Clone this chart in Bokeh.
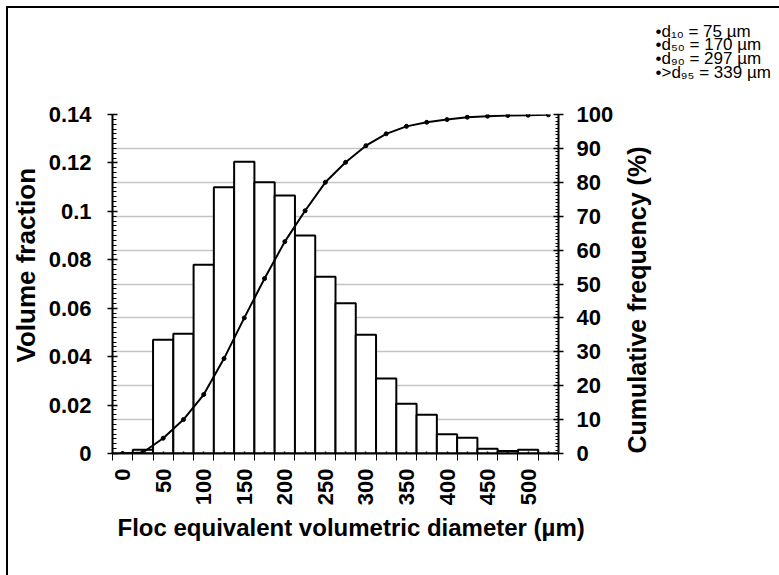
import math
from bokeh.plotting import figure
from bokeh.models import (Range1d, LinearAxis, FixedTicker, Legend, LegendItem,
                          Title, ColumnDataSource)
from bokeh.embed import file_html
from bokeh.resources import INLINE

# ---------------- data ----------------
diameters = [0, 25, 50, 75, 100, 125, 150, 175, 200, 225, 250, 275,
             300, 325, 350, 375, 400, 425, 450, 475, 500, 525]
volume_fraction = [0.0, 0.0015, 0.047, 0.0495, 0.078, 0.110, 0.1205, 0.112,
                   0.1065, 0.090, 0.073, 0.062, 0.049, 0.031, 0.0205, 0.016,
                   0.008, 0.0065, 0.002, 0.001, 0.0015, 0.0]
cumulative_freq = [0.0, 0.3, 4.5, 10.0, 17.4, 28.0, 40.0, 51.6, 62.5, 71.6,
                   80.0, 85.9, 90.8, 94.3, 96.5, 97.7, 98.5, 99.2, 99.5, 99.7,
                   99.8, 99.9]
x_tick_labels = ["0", "50", "100", "150", "200", "250", "300", "350",
                 "400", "450", "500"]
left_ticks = [0, 0.02, 0.04, 0.06, 0.08, 0.1, 0.12, 0.14]
left_tick_labels = ["0", "0.02", "0.04", "0.06", "0.08", "0.1", "0.12", "0.14"]
right_ticks = [0, 10, 20, 30, 40, 50, 60, 70, 80, 90, 100]
stats_text = ["•d\u2081\u2080 = 75 µm", "•d\u2085\u2080 = 170 µm",
              "•d\u2089\u2080 = 297 µm", "•>d\u2089\u2085 = 339 µm"]

FONT = "Liberation Sans"
n = len(diameters)
idx = list(range(n))
src = ColumnDataSource(dict(x=idx, vol=volume_fraction, cum=cumulative_freq))

p = figure(frame_width=446, frame_height=339, output_backend="svg",
           toolbar_location=None, title=None,
           x_range=Range1d(-0.5, n - 0.5), y_range=Range1d(0, 0.14),
           min_border_left=112, min_border_right=221,
           min_border_top=114, min_border_bottom=114)
p.outline_line_color = None
p.background_fill_color = "white"
p.border_fill_color = None
# outer chart frame (top and left edges) drawn as page background
p.styles = {"position": "fixed", "top": "0px", "left": "0px",
            "background": "linear-gradient(#000,#000) 6px 6px / 2px 100% no-repeat, "
                          "linear-gradient(#000,#000) 6px 6px / 100% 2px no-repeat, #fff"}
p.extra_y_ranges = {"cum": Range1d(0, 100)}

# ---- x axis ----
xax = p.xaxis[0]
xax.ticker = FixedTicker(ticks=idx, minor_ticks=[i - 0.5 for i in range(n + 1)])
overrides = {}
for i in idx:
    overrides[i] = x_tick_labels[i // 2] if (i % 2 == 0 and i // 2 < len(x_tick_labels)) else ""
xax.major_label_overrides = overrides
xax.major_label_orientation = math.pi / 2
xax.major_tick_in = 2
xax.major_tick_out = 0
xax.minor_tick_in = 0
xax.minor_tick_out = 7
xax.major_label_standoff = 8

# ---- left axis ----
yax = p.yaxis[0]
yax.ticker = FixedTicker(ticks=left_ticks, minor_ticks=[k * 0.002 for k in range(71)])
yax.major_label_overrides = {t: l for t, l in zip(left_ticks, left_tick_labels)}
yax.major_tick_in = 5
yax.major_tick_out = 5
yax.minor_tick_in = 4
yax.minor_tick_out = 0
yax.major_label_standoff = 16

# ---- right axis ----
rax = LinearAxis(y_range_name="cum",
                 ticker=FixedTicker(ticks=right_ticks, minor_ticks=list(range(101))))
rax.major_tick_in = 5
rax.major_tick_out = 5
rax.minor_tick_in = 3
rax.minor_tick_out = 0
rax.major_label_standoff = 13
rax.axis_label = "Cumulative frequency (%)"
rax.axis_label_standoff = 21
props = rax.properties()
if "axis_label_orientation" in props and "axis_label_align" in props:
    rax.axis_label_orientation = math.pi / 2
    rax.axis_label_align = "start"
p.add_layout(rax, "right")

for ax in (xax, yax, rax):
    ax.axis_line_color = "black"
    ax.axis_line_width = 2
    ax.major_tick_line_color = "black"
    ax.major_tick_line_width = 1.5
    ax.minor_tick_line_color = "black"
    ax.minor_tick_line_width = 1
    ax.major_label_text_font = FONT
    ax.major_label_text_font_style = "bold"
    ax.major_label_text_font_size = "22px"
    ax.major_label_text_color = "black"
    ax.axis_label_text_font = FONT
    ax.axis_label_text_font_style = "bold"
    ax.axis_label_text_color = "black"
rax.axis_label_text_font_size = "25px"

# axis titles as side-panel titles (offset along the axis)
p.add_layout(Title(text="Volume fraction", align="left", offset=91, standoff=9,
                   text_font=FONT, text_font_style="bold", text_font_size="26px",
                   text_color="black"), "left")
p.add_layout(Title(text="Floc equivalent volumetric diameter (µm)", align="left",
                   offset=5, standoff=6, text_font=FONT, text_font_style="bold",
                   text_font_size="24px", text_color="black"), "below")

# ---- grid ----
p.xgrid.visible = False
g = p.ygrid[0]
g.y_range_name = "cum"
g.ticker = rax.ticker
g.grid_line_color = "#c4c4c4"
g.grid_line_width = 1.6

# ---- glyphs ----
bars = p.vbar(x="x", top="vol", width=1, bottom=0, source=src,
              fill_color="white", line_color="black", line_width=2)
line = p.line(x="x", y="cum", source=src, y_range_name="cum",
              line_color="black", line_width=2)
pts = p.scatter(x="x", y="cum", source=src, y_range_name="cum",
                size=4, fill_color="black", line_color="black")

legend = Legend(items=[LegendItem(label="Volume fraction", renderers=[bars]),
                       LegendItem(label="Cumulative frequency (%)", renderers=[line, pts])],
                orientation="horizontal", location="top_center",
                label_text_font=FONT, label_text_font_style="bold",
                label_text_font_size="18px", glyph_width=22, glyph_height=11,
                label_height=18, label_standoff=1, spacing=33, padding=0, margin=2,
                border_line_color=None, background_fill_alpha=0)
p.add_layout(legend, "below")

# ---- stats annotation above the plot ----
p.add_layout(Title(text="\n".join(stats_text) + "\n\n", align="left", offset=543,
                   standoff=8, vertical_align="top",
                   text_font=FONT, text_font_style="normal",
                   text_font_size="17px", text_line_height=0.72,
                   text_color="black"), "above")

open("out.html", "w").write(file_html(p, INLINE))
